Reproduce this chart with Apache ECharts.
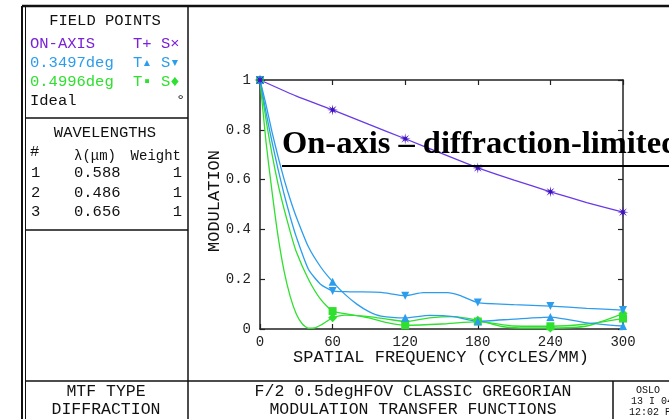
<!DOCTYPE html>
<html>
<head>
<meta charset="utf-8">
<script src="https://cdn.jsdelivr.net/npm/echarts@6/dist/echarts.min.js"></script>
<style>
  html, body { margin: 0; padding: 0; background: #fff; }
  #main { width: 669px; height: 419px; }
</style>
</head>
<body>
<div id="main"></div>
<script>
// MTF data (spatial frequency in cycles/mm)
const xTicks = [0, 60, 120, 180, 240, 300];
const yTicks = [0, 0.2, 0.4, 0.6, 0.8, 1];

const onAxisFreq = [0, 30, 60, 90, 120, 150, 180, 210, 240, 270, 300];
const onAxisMtf = [1, 0.935, 0.88, 0.822, 0.764, 0.705, 0.647, 0.598, 0.551, 0.508, 0.469];

const f35TFreq = [0, 5, 10, 15, 20, 25, 30, 40, 50, 60, 70, 80, 90, 100, 120, 140, 160, 180, 210, 240, 270, 300];
const f35TMtf = [1, 0.9, 0.79, 0.69, 0.6, 0.52, 0.45, 0.33, 0.25, 0.19, 0.14, 0.1, 0.07, 0.052, 0.045, 0.055, 0.05, 0.031, 0.04, 0.048, 0.025, 0.012];

const f35SFreq = [0, 5, 10, 15, 20, 25, 30, 40, 50, 60, 70, 80, 100, 120, 135, 155, 165, 180, 210, 240, 270, 300];
const f35SMtf = [1, 0.87, 0.75, 0.64, 0.54, 0.45, 0.37, 0.24, 0.18, 0.153, 0.15, 0.149, 0.147, 0.134, 0.146, 0.146, 0.135, 0.106, 0.098, 0.092, 0.083, 0.076];

const f50TFreq = [0, 5, 10, 15, 20, 25, 30, 40, 50, 60, 75, 90, 105, 120, 150, 180, 210, 240, 270, 300];
const f50TMtf = [1, 0.84, 0.7, 0.58, 0.48, 0.39, 0.31, 0.2, 0.12, 0.072, 0.058, 0.045, 0.026, 0.015, 0.02, 0.03, 0.012, 0.011, 0.02, 0.042];

const f50SFreq = [0, 5, 10, 15, 20, 25, 30, 35, 40, 45, 50, 55, 60, 70, 90, 105, 120, 140, 160, 180, 200, 220, 240, 270, 300];
const f50SMtf = [1, 0.75, 0.55, 0.37, 0.23, 0.13, 0.06, 0.02, 0.003, 0.004, 0.015, 0.03, 0.045, 0.056, 0.05, 0.04, 0.03, 0.045, 0.05, 0.035, 0.01, 0.004, 0.004, 0.012, 0.062];

const wlIndex = ['1', '2', '3'];
const wlValue = ['0.588', '0.486', '0.656'];
const wlWeight = ['1', '1', '1'];

const PURPLE = '#6a3ae6';
const PURPLE_DARK = '#4010c0';
const BLUE = '#2c9ded';
const GREEN = '#2fe02f';
const MONO = '"Liberation Mono", "DejaVu Sans Mono", monospace';

function pairs(xs, ys) {
  return xs.map(function (x, i) { return [x, ys[i]]; });
}

// 8-point asterisk marker
function starPath() {
  let d = '';
  for (let i = 0; i < 16; i++) {
    const r = i % 2 === 0 ? 10 : 3;
    const a = i * Math.PI / 8;
    d += (i === 0 ? 'M' : 'L') + (r * Math.cos(a)).toFixed(2) + ',' + (r * Math.sin(a)).toFixed(2);
  }
  return 'path://' + d + 'Z';
}

function markAt60(sym) {
  return function (v) { return v[0] % 60 === 0 ? sym : 'none'; };
}

function mtfLine(name, xs, ys, color, sym, size, rot) {
  return {
    name: name,
    type: 'line',
    data: pairs(xs, ys),
    smooth: 0.2,
    showAllSymbol: true,
    symbol: markAt60(sym),
    symbolSize: size,
    symbolRotate: rot || 0,
    lineStyle: { color: color, width: 1.3 },
    itemStyle: { color: color },
    emphasis: { disabled: true },
    xAxisIndex: 0,
    yAxisIndex: 0
  };
}

const chart = echarts.init(document.getElementById('main'), null, { renderer: 'canvas' });

function txt(text, x, y, opts) {
  opts = opts || {};
  return {
    type: 'text',
    x: x, y: y,
    rotation: opts.rotation || 0,
    z: 100,
    style: {
      text: text,
      font: (opts.size || 15.5) + 'px ' + (opts.family || MONO),
      fill: opts.color || '#111',
      textAlign: opts.align || 'left',
      textVerticalAlign: 'middle'
    }
  };
}

function ln(x1, y1, x2, y2, w) {
  return {
    type: 'line',
    z: 100,
    shape: { x1: x1, y1: y1, x2: x2, y2: y2 },
    style: { stroke: '#111', lineWidth: w || 1.5 }
  };
}

const graphics = [
  // frame
  ln(22, 6, 669, 6, 2.5),
  ln(22, 6, 22, 419, 2),
  ln(25.5, 6, 25.5, 419, 1),
  ln(188, 6, 188, 419, 1.5),
  ln(25, 118, 188, 118, 1.5),
  ln(25, 230, 188, 230, 1.5),
  ln(25, 381, 669, 381, 1.5),
  ln(613, 381, 613, 419, 1.5),
  // field points
  txt('FIELD POINTS', 105, 21, { align: 'center' }),
  txt('ON-AXIS', 30, 44, { color: '#7a22d8' }),
  txt('T+ S\u00d7', 133, 44, { color: '#7a22d8' }),
  txt('0.3497deg', 30, 63, { color: BLUE }),
  txt('T\u25b4 S\u25be', 133, 63, { color: BLUE }),
  txt('0.4996deg', 30, 82, { color: GREEN }),
  txt('T\u25aa S\u2666', 133, 82, { color: GREEN }),
  txt('Ideal', 30, 101),
  txt('\u00b0', 176, 101),
  // wavelengths
  txt('WAVELENGTHS', 105, 133, { align: 'center' }),
  txt('#', 30, 152),
  txt('\u03bb(\u03bcm)', 74, 156, { size: 14 }),
  txt('Weight', 181, 156, { size: 14, align: 'right' }),
  // bottom captions
  txt('MTF TYPE', 106, 392, { size: 16.5, align: 'center' }),
  txt('DIFFRACTION', 106, 410, { size: 16.5, align: 'center' }),
  txt('F/2 0.5degHFOV CLASSIC GREGORIAN', 413, 392, { size: 16.5, align: 'center' }),
  txt('MODULATION TRANSFER FUNCTIONS', 413, 410, { size: 16.5, align: 'center' }),
  txt('OSLO', 636, 390, { size: 10 }),
  txt('13 I 04', 631, 401, { size: 10 }),
  txt('12:02 PM', 629, 412, { size: 10 }),
  // axis names
  txt('SPATIAL FREQUENCY (CYCLES/MM)', 441, 357, { size: 17, align: 'center' }),
  txt('MODULATION', 214, 201, { size: 17, align: 'center', rotation: Math.PI / 2 }),
  // overlay annotation
  {
    type: 'text', x: 282, y: 161, z: 120,
    style: {
      text: 'On-axis \u2013 diffraction-limited',
      font: 'bold 32.5px "Liberation Serif", "Times New Roman", serif',
      fill: '#000',
      textAlign: 'left',
      textVerticalAlign: 'bottom'
    }
  },
  { type: 'line', z: 120, shape: { x1: 282, y1: 166, x2: 669, y2: 166 }, style: { stroke: '#000', lineWidth: 2.2 } }
];

wlIndex.forEach(function (n, i) {
  const y = [173, 192.5, 212][i];
  graphics.push(txt(n, 31, y));
  graphics.push(txt(wlValue[i], 74, y));
  graphics.push(txt(wlWeight[i], 182, y, { align: 'right' }));
});

const axisCommon = {
  type: 'value',
  axisLine: { show: true, onZero: false, lineStyle: { color: '#222', width: 1.5 } },
  axisTick: { show: true, inside: true, length: 5, lineStyle: { color: '#222', width: 1.2 } },
  splitLine: { show: false }
};

const option = {
  backgroundColor: '#fff',
  animation: false,
  grid: { left: 260, right: 46, top: 80, bottom: 90, containLabel: false, outerBoundsMode: 'none' },
  xAxis: [
    Object.assign({}, axisCommon, {
      position: 'bottom', min: xTicks[0], max: xTicks[xTicks.length - 1], interval: xTicks[1] - xTicks[0],
      axisLabel: { show: true, margin: 6, color: '#222', fontFamily: MONO, fontSize: 14 }
    }),
    Object.assign({}, axisCommon, {
      position: 'top', min: xTicks[0], max: xTicks[xTicks.length - 1], interval: xTicks[1] - xTicks[0],
      axisLabel: { show: false }
    })
  ],
  yAxis: [
    Object.assign({}, axisCommon, {
      position: 'left', min: yTicks[0], max: yTicks[yTicks.length - 1], interval: 0.2,
      axisLabel: { show: true, margin: 9, color: '#222', fontFamily: MONO, fontSize: 14 }
    }),
    Object.assign({}, axisCommon, {
      position: 'right', min: yTicks[0], max: yTicks[yTicks.length - 1], interval: 0.2,
      axisLabel: { show: false }
    })
  ],
  series: [
    mtfLine('0.4996deg T', f50TFreq, f50TMtf, GREEN, 'rect', 8),
    mtfLine('0.4996deg S', f50SFreq, f50SMtf, GREEN, 'diamond', 9),
    mtfLine('0.3497deg T', f35TFreq, f35TMtf, BLUE, 'triangle', 8),
    mtfLine('0.3497deg S', f35SFreq, f35SMtf, BLUE, 'triangle', 8, 180),
    Object.assign(mtfLine('ON-AXIS', onAxisFreq, onAxisMtf, PURPLE, starPath(), 11), {
      itemStyle: { color: PURPLE_DARK },
      smooth: 0.1
    })
  ],
  graphic: graphics
};

chart.setOption(option);
</script>
</body>
</html>
